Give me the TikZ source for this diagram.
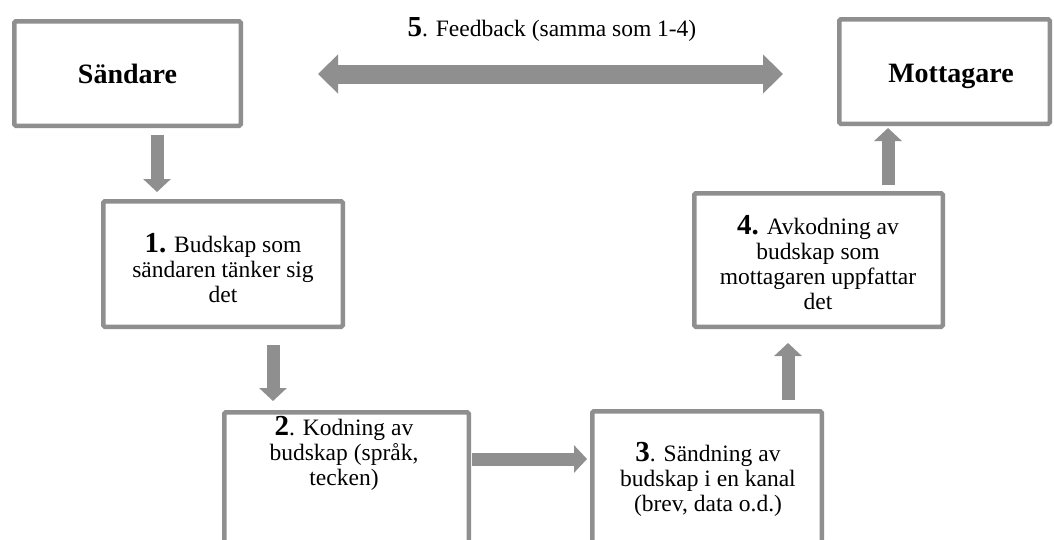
\documentclass[tikz,border=0pt]{standalone}
\usepackage{fontspec}
\setmainfont{Liberation Serif}
\usetikzlibrary{arrows.meta}
\definecolor{bgray}{RGB}{143,143,143}
\tikzset{
  box/.style={draw=bgray, line width=4.5pt, rounded corners=1.5pt, fill=white, inner sep=0pt, rectangle},
  txt/.style={align=center, inner sep=0pt, font=\fontsize{23.5}{25}\selectfont, anchor=base},
  ttl/.style={inner sep=0pt, font=\fontsize{28}{30}\selectfont\bfseries, anchor=base},
  blk/.style={draw=bgray, line width=13pt, line cap=butt, -{Triangle[width=27pt,length=13pt]}},
  dbl/.style={draw=bgray, line width=19pt, line cap=butt, {Triangle[width=38pt,length=20pt]}-{Triangle[width=38pt,length=20pt]}}
}
\newcommand{\num}[1]{{\fontsize{29}{25}\selectfont\bfseries #1}}
\begin{document}
\begin{tikzpicture}[x=1pt,y=-1pt]
\clip (0,0) rectangle (1054,539);
\fill[white] (0,0) rectangle (1054,539);
% boxes
\node[box, minimum width=226.5pt, minimum height=104.5pt] (S) at (127.5,73.5) {};
\node[box, minimum width=210.5pt, minimum height=104.5pt] (M) at (944.5,71.5) {};
\node[box, minimum width=239.5pt, minimum height=125.5pt] (B1) at (223,264) {};
\node[box, minimum width=244.5pt, minimum height=145.5pt] (B2) at (346.5,485) {};
\node[box, minimum width=229.5pt, minimum height=146.5pt] (B3) at (707,484.5) {};
\node[box, minimum width=248.5pt, minimum height=133.5pt] (B4) at (818.5,260) {};
% texts (base = baseline of last line)
\node[ttl] (tS) at (127.5,83) {Sändare};
\node[ttl] (tM) at (951,82) {Mottagare};
\node[txt] (tF) at (552,36) {\num{5}. Feedback (samma som 1-4)};
\node[txt] (t1) at (223,302) {\num{1.} Budskap som\\sändaren tänker sig\\det};
\node[txt] (t2) at (344,485) {\num{2}. Kodning av\\budskap (språk,\\tecken)};
\node[txt] (t3) at (708,511) {\num{3}. Sändning av\\budskap i en kanal\\(brev, data o.d.)};
\node[txt] (t4) at (818,309) {\num{4.} Avkodning av\\budskap som\\mottagaren uppfattar\\det};
% arrow positions
\coordinate (a1) at (157,0);
\coordinate (a2) at (273,0);
\coordinate (a3) at (0,459);
\coordinate (a4) at (788,0);
\coordinate (a5) at (888,0);
\coordinate (fb) at (0,74);
% arrows
\draw[blk, shorten <=7pt, shorten >=7pt] (S.south -| a1) -- (B1.north -| a1);
\draw[blk, shorten <=16pt, shorten >=9pt] (B1.south -| a2) -- (B2.north -| a2);
\draw[blk, shorten <=1pt, shorten >=3pt] (B2.east |- a3) -- (B3.west |- a3);
\draw[blk, shorten <=9pt, shorten >=14pt] (B3.north -| a4) -- (B4.south -| a4);
\draw[blk, shorten <=6pt, shorten >=2pt] (B4.north -| a5) -- (M.south -| a5);
\draw[dbl, shorten <=75pt, shorten >=54pt] (S.east |- fb) -- (M.west |- fb);
\end{tikzpicture}
\end{document}
